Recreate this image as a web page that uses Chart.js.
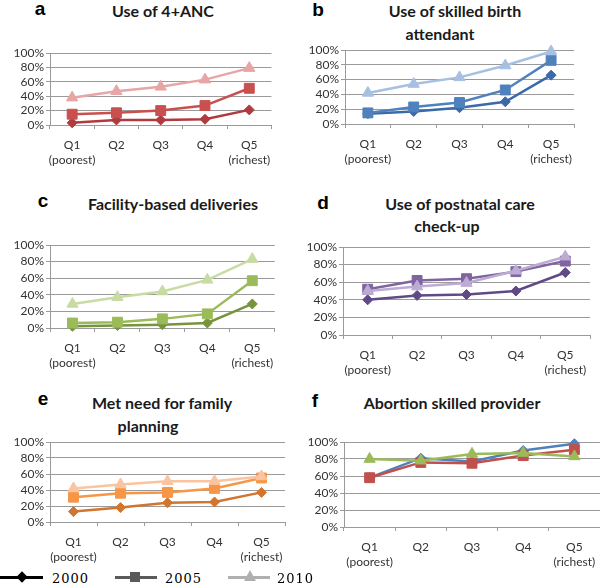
<!DOCTYPE html>
<html>
<head>
<meta charset="utf-8">
<script src="https://cdn.jsdelivr.net/npm/chart.js@4.4.0/dist/chart.umd.min.js"></script>
<style>
body { margin:0; width:600px; height:585px; overflow:hidden; background:#fff; position:relative; font-family:"Lato","Open Sans",sans-serif; }
canvas { position:absolute; }
.t { position:absolute; font-weight:bold; font-size:16px; color:#1a1a1a; white-space:nowrap; transform:translate(-50%,-50%); }
.l { position:absolute; font-family:"Liberation Sans",Arial,sans-serif; font-weight:bold; font-size:19px; color:#000; transform:translate(-50%,-50%); }
.lg { position:absolute; }
.lgt { position:absolute; font-family:"DejaVu Serif",serif; font-size:13px; letter-spacing:1px; color:#000; transform:translateY(-50%); }
</style>
</head>
<body>

<div class="l" style="left:40px;top:9px">a</div>
<div class="t" style="left:163px;top:10px">Use of 4+ANC</div>
<div class="l" style="left:318px;top:10px">b</div>
<div class="t" style="left:455px;top:10px">Use of skilled birth</div>
<div class="t" style="left:440px;top:33px">attendant</div>
<div class="l" style="left:43px;top:201px">c</div>
<div class="t" style="left:173px;top:203px">Facility-based deliveries</div>
<div class="l" style="left:323px;top:203px">d</div>
<div class="t" style="left:460px;top:203px">Use of postnatal care</div>
<div class="t" style="left:447px;top:225px">check-up</div>
<div class="l" style="left:43px;top:399px">e</div>
<div class="t" style="left:162px;top:402px">Met need for family</div>
<div class="t" style="left:148px;top:425px">planning</div>
<div class="l" style="left:315px;top:401px">f</div>
<div class="t" style="left:452px;top:402px">Abortion skilled provider</div>

<canvas id="chartA"></canvas>
<canvas id="chartB"></canvas>
<canvas id="chartC"></canvas>
<canvas id="chartD"></canvas>
<canvas id="chartE"></canvas>
<canvas id="chartF"></canvas>

<!-- legenda -->
<div class="lg" style="left:0;top:576px;width:43px;height:3px;background:#000"></div>
<div class="lg" style="left:18px;top:573px;width:8px;height:8px;background:#000;transform:rotate(45deg)"></div>
<div class="lgt" style="left:52px;top:578px">2000</div>
<div class="lg" style="left:115px;top:576px;width:42px;height:3px;background:#5a5a5a"></div>
<div class="lg" style="left:130px;top:572px;width:10px;height:10px;background:#5a5a5a"></div>
<div class="lgt" style="left:165px;top:578px">2005</div>
<div class="lg" style="left:228px;top:576px;width:42px;height:3px;background:#b0b0b0"></div>
<div class="lg" style="left:244px;top:570px;width:0;height:0;border-left:6px solid transparent;border-right:6px solid transparent;border-bottom:11px solid #b0b0b0"></div>
<div class="lgt" style="left:277px;top:578px">2010</div>

<script>
const quintis = [['Q1', '(poorest)'], 'Q2', 'Q3', 'Q4', ['Q5', '(richest)']];
const anos = ['2000', '2005', '2010'];
const yTicks = [0, 20, 40, 60, 80, 100];

// a - Use of 4+ANC
const anc2000 = [3, 7, 7, 8, 21];
const anc2005 = [15, 17, 20, 27, 51];
const anc2010 = [38, 47, 53, 63, 79];
// b - Skilled birth attendant
const sba2000 = [14, 17, 22, 30, 66];
const sba2005 = [15, 23, 29, 46, 86];
const sba2010 = [42, 54, 63, 79, 98];
// c - Facility-based deliveries
const fbd2000 = [2, 3, 4, 6, 29];
const fbd2005 = [6, 7, 11, 17, 57];
const fbd2010 = [29, 37, 44, 58, 83];
// d - Postnatal care
const pnc2000 = [40, 45, 46, 50, 71];
const pnc2005 = [52, 62, 64, 72, 84];
const pnc2010 = [50, 55, 59, 73, 89];
// e - Family planning
const fp2000 = [13, 18, 24, 25, 37];
const fp2005 = [31, 36, 37, 42, 55];
const fp2010 = [42, 47, 51, 51, 57];
// f - Abortion skilled provider
const abo2000 = [58, 81, 77, 90, 98];
const abo2005 = [58, 76, 75, 84, 91];
const abo2010 = [80, 78, 86, 87, 83];

const estilos = ['rectRot', 'rect', 'triangle'];
const raios = [5, 7, 6.5];
const gridCor = '#9a9a9a';
const fonteTick = { family: 'Lato', size: 12, lineHeight: 1.25 };

function criarPainel(id, area, series, cores) {
    const left = area.l - 50, top = area.t - 12;
    const padRight = 8;
    const w = area.r - area.l + 50 + padRight;
    const h = area.b - area.t + 12 + 46;
    const cv = document.getElementById(id);
    cv.width = w; cv.height = h;
    cv.style.left = left + 'px';
    cv.style.top = top + 'px';
    cv.style.width = w + 'px';
    cv.style.height = h + 'px';

    new Chart(cv.getContext('2d'), {
        type: 'line',
        data: {
            labels: quintis,
            datasets: series.map((s, i) => ({
                label: anos[i],
                data: s,
                borderColor: cores[i],
                backgroundColor: cores[i],
                borderWidth: 2.5,
                pointStyle: estilos[i],
                pointRadius: raios[i],
                pointBorderWidth: 1,
                tension: 0,
                clip: false,
                order: 2 - i
            }))
        },
        options: {
            responsive: false,
            animation: false,
            layout: { padding: { top: 12, right: padRight, left: 0, bottom: 0 } },
            plugins: { legend: { display: false }, tooltip: { enabled: false } },
            scales: {
                x: {
                    offset: true,
                    grid: { offset: true, drawOnChartArea: false, tickLength: 4, color: gridCor },
                    border: { color: gridCor },
                    ticks: { font: fonteTick, color: '#333', padding: 9, maxRotation: 0, autoSkip: false },
                    afterFit: s => { s.height = 46; }
                },
                y: {
                    min: 0, max: 100,
                    afterBuildTicks: s => { s.ticks = yTicks.map(v => ({ value: v })); },
                    grid: { color: gridCor, tickLength: 4 },
                    border: { color: gridCor },
                    ticks: { font: fonteTick, color: '#333', padding: 2, autoSkip: false, callback: v => v + '%' },
                    afterFit: s => { s.width = 50; }
                }
            }
        }
    });
}

criarPainel('chartA', { l: 50, r: 272, t: 53, b: 125 }, [anc2000, anc2005, anc2010], ['#b03a3e', '#c8504f', '#e8a5a5']);
criarPainel('chartB', { l: 345, r: 574, t: 50, b: 124 }, [sba2000, sba2005, sba2010], ['#3a6aa8', '#4f81bd', '#a7bfe0']);
criarPainel('chartC', { l: 50, r: 275, t: 245, b: 328 }, [fbd2000, fbd2005, fbd2010], ['#77933c', '#9bbb59', '#c8dba3']);
criarPainel('chartD', { l: 343, r: 590, t: 247, b: 335 }, [pnc2000, pnc2005, pnc2010], ['#604a86', '#8064a2', '#bcabd3']);
criarPainel('chartE', { l: 50, r: 285, t: 442, b: 522 }, [fp2000, fp2005, fp2010], ['#d2752e', '#f79646', '#fac4a0']);
criarPainel('chartF', { l: 344, r: 600, t: 442, b: 527 }, [abo2000, abo2005, abo2010], ['#4f81bd', '#c0504d', '#9bbb59']);
</script>
</body>
</html>
